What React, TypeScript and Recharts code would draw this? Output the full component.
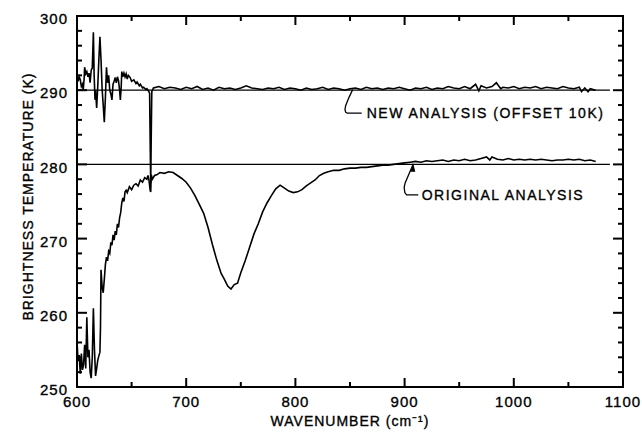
import { Label, Line, LineChart, ReferenceArea, ReferenceDot, ReferenceLine, XAxis, YAxis } from 'recharts'

// wavenumber (cm-1) / brightness temperature (K)
const origWn = [
  600, 601, 602, 603, 604, 605, 606, 607, 608, 609, 610, 611, 612, 613, 614, 615, 616, 617, 618, 619, 620, 621, 621.5, 622, 623,
  624, 625, 626, 627, 628, 629, 630, 631, 632, 633, 634, 635, 636, 637, 638, 639, 640, 641, 642, 643, 644, 645, 646, 648, 650,
  652, 654, 656, 658, 660, 662, 664, 665, 666, 667, 667.5, 668, 669, 671, 673, 676, 680, 684, 688, 692, 696, 700, 704, 708, 712,
  716, 720, 724, 728, 732, 735, 738, 741, 744, 747, 750, 754, 758, 762, 766, 770, 774, 778, 782, 786, 790, 794, 798, 802, 806,
  810, 814, 818, 822, 826, 830, 835, 840, 845, 850, 855, 860, 865, 870, 875, 880, 885, 890, 895, 900, 905, 910, 915, 920, 925,
  930, 935, 940, 945, 950, 955, 960, 965, 970, 975, 978, 980, 985, 990, 995, 1000, 1005, 1010, 1015, 1020, 1025, 1030, 1035,
  1040, 1045, 1050, 1055, 1060, 1065, 1070, 1075,
]
const origT = [
  256.1, 253.5, 254.3, 251.8, 254.5, 252.3, 253, 255.7, 252.5, 259.4, 254, 255, 252, 251.2, 254, 260.6, 255, 251.5, 252.5, 253.6,
  254.2, 254.7, 258, 265.8, 263.5, 262.7, 264.5, 266.5, 267.5, 267, 268.3, 268, 269.5, 269.1, 270.5, 269.8, 271, 270.5, 272,
  271.5, 272.8, 273.5, 274.8, 275.5, 275, 276.3, 276.5, 276.2, 277, 276.6, 277.2, 277.4, 277.1, 277.9, 277.6, 278.2, 278, 278.5,
  277.8, 276.5, 276.3, 278.6, 278, 278.5, 278.6, 278.9, 278.8, 279, 278.9, 278.5, 278.1, 277.6, 276.8, 275.8, 274.6, 273.4,
  271.5, 269.2, 267.1, 265.3, 264.5, 263.6, 263.2, 263.8, 264, 265.4, 267, 268.8, 270.6, 272, 273.6, 274.8, 275.8, 276.7, 277.2,
  276.8, 276.4, 276.2, 276.3, 276.6, 277.1, 277.5, 277.9, 278.5, 278.8, 279, 279.2, 279.2, 279.4, 279.5, 279.5, 279.6, 279.6,
  279.7, 279.8, 279.9, 279.9, 280, 280.1, 280.2, 280.3, 280.4, 280.3, 280.5, 280.4, 280.5, 280.6, 280.4, 280.6, 280.5, 280.7,
  280.5, 280.6, 280.8, 281, 280.6, 281, 280.7, 280.6, 280.8, 280.6, 280.7, 280.6, 280.7, 280.6, 280.7, 280.6, 280.5, 280.6,
  280.6, 280.7, 280.6, 280.7, 280.5, 280.6, 280.4,
]

const newWn = [
  600, 601, 602, 603, 604, 605, 605.7, 606.5, 607, 608, 609, 610, 611, 612, 613, 614, 615, 615.7, 616.5, 617, 618, 619, 620, 621,
  622, 623, 624, 625, 626, 627, 628, 629, 630, 631, 632, 633, 634, 635, 636, 637, 638, 639, 639.7, 640.5, 641, 642, 643, 644,
  645, 646, 647, 648.7, 650, 652, 654, 655, 657, 658, 660, 661, 663, 664, 665.5, 666.5, 667, 667.5, 668, 668.5, 670, 675, 680,
  685, 690, 695, 700, 705, 710, 715, 720, 725, 730, 735, 740, 745, 750, 755, 760, 765, 770, 775, 780, 785, 790, 795, 800, 805,
  810, 815, 820, 825, 830, 835, 840, 845, 850, 855, 860, 865, 870, 875, 880, 885, 890, 895, 900, 905, 910, 915, 920, 925, 930,
  935, 940, 945, 950, 955, 960, 965, 968, 970, 975, 980, 984, 988, 990, 995, 1000, 1005, 1010, 1015, 1020, 1025, 1030, 1035,
  1040, 1045, 1050, 1055, 1060, 1062, 1065, 1068, 1070, 1075,
]
const newT = [
  292, 291.2, 291.8, 291.4, 290.5, 290.8, 290, 291.5, 293.1, 292.2, 292.5, 291.8, 292.3, 291, 292.7, 293, 297.8, 292, 288.7, 290,
  287.6, 290.5, 294.1, 297.2, 294.1, 290.2, 288, 285.7, 289, 293.1, 291, 292, 290, 289.5, 288.7, 290.8, 291.2, 291.7, 291, 291.8,
  291.3, 290, 288.7, 290.5, 292.5, 291.8, 292.3, 291.8, 292.2, 291.5, 292, 291.7, 291.2, 291.4, 290.9, 291.1, 290.6, 290.8, 290.3,
  290.4, 290.1, 290.2, 289.9, 289.6, 283, 277.5, 284, 289.8, 290.3, 290.5, 290.2, 290.4, 290.3, 290.1, 290.4, 290.2, 290.5, 290.1,
  290.3, 290, 290.4, 290.2, 290.3, 290.1, 290.3, 290.6, 290.3, 290.2, 290.1, 290.3, 290.2, 290.4, 290.1, 290.3, 290.2, 290, 290.3,
  290.1, 290.2, 290.4, 290.1, 290.3, 290.2, 290, 290.2, 290.3, 290.1, 290.4, 290.2, 290.3, 290.1, 290.3, 290.2, 290.4, 290.2, 290,
  290.3, 290.2, 290.4, 290.1, 290.3, 290.2, 290.5, 290.3, 290.2, 290.5, 290.2, 290.8, 289.9, 290.6, 290.3, 290.5, 291, 290.2,
  290.4, 290.3, 290.5, 290.2, 290.4, 290.3, 290.5, 290.2, 290.4, 290.3, 290.2, 290.5, 290.3, 290.2, 290.4, 289.8, 290.3, 289.8,
  290.2, 290,
]

// leader lines for the two annotations
const newLeaderWn = [852.5, 849, 846, 845.4, 846, 847.5, 860.7]
const newLeaderT = [290.1, 289, 287.9, 287.4, 287.05, 286.9, 286.9]
const origLeaderWn = [908, 904, 900.5, 899.6, 900.2, 901.8, 912.5]
const origLeaderT = [280.1, 278.7, 277.5, 276.9, 276.2, 275.9, 275.9]

const xTicks = [600, 650, 700, 750, 800, 850, 900, 950, 1000, 1050, 1100]
const yTicks = [250, 252, 254, 256, 258, 260, 262, 264, 266, 268, 270, 272, 274, 276, 278, 280, 282, 284, 286, 288, 290, 292, 294, 296, 298, 300]

const toRows = (xs: number[], ys: number[]) => xs.map((wn, i) => ({ wn, t: ys[i] }))
const origData = toRows(origWn, origT)
const newData = toRows(newWn, newT)
const newLeader = toRows(newLeaderWn, newLeaderT)
const origLeader = toRows(origLeaderWn, origLeaderT)

const W = 642
const H = 435
const M = { top: 16, right: 19, bottom: 0, left: 0 }
const PLOT_TOP = M.top
const PLOT_RIGHT = W - M.right

const FONT = '"Liberation Sans", Arial, sans-serif'
const INK = '#000'
const textStyle = { fontFamily: FONT, fill: INK, stroke: INK, strokeWidth: 0.35 }

// ticks point inward on all four sides; labels only on major ticks
const BottomTick = (p: any) => {
  const major = p.payload.value % 100 === 0
  const len = major ? 9 : 5
  return (
    <g>
      <line x1={p.x} x2={p.x} y1={p.y} y2={p.y - len} stroke={INK} strokeWidth={2} />
      <line x1={p.x} x2={p.x} y1={PLOT_TOP} y2={PLOT_TOP + len} stroke={INK} strokeWidth={2} />
      {major && (
        <text x={p.x} y={p.y + 20} textAnchor="middle" fontSize={15} letterSpacing={1} {...textStyle}>
          {p.payload.value}
        </text>
      )}
    </g>
  )
}
const LeftTick = (p: any) => {
  const major = p.payload.value % 10 === 0
  const len = major ? 10 : 5
  return (
    <g>
      <line x1={p.x} x2={p.x + len} y1={p.y} y2={p.y} stroke={INK} strokeWidth={2} />
      <line x1={PLOT_RIGHT} x2={PLOT_RIGHT - len} y1={p.y} y2={p.y} stroke={INK} strokeWidth={2} />
      {major && (
        <text x={p.x - 9} y={p.y + 3} textAnchor="end" dy="0.35em" fontSize={15} letterSpacing={1} {...textStyle}>
          {p.payload.value}
        </text>
      )}
    </g>
  )
}

const note = (text: string) => (p: any) => (
  <text x={p.cx} y={p.cy} dy="0.35em" fontSize={14} letterSpacing={1.5} {...textStyle}>
    {text}
  </text>
)
const arrowHead = (p: any) => (
  <polygon points={`${p.cx},${p.cy} ${p.cx - 3},${p.cy + 8} ${p.cx + 2},${p.cy + 8}`} fill={INK} />
)

export default function App() {
  return (
    <div style={{ position: 'absolute', left: 0, top: 0, background: '#fff' }}>
      <LineChart width={W} height={H} margin={M}>
        <XAxis
          dataKey="wn"
          type="number"
          domain={[600, 1100]}
          ticks={xTicks}
          interval={0}
          height={48}
          tickSize={0}
          tickMargin={0}
          tick={BottomTick}
          axisLine={{ stroke: INK, strokeWidth: 2 }}
        >
          <Label
            content={(p: any) => (
              <text x={p.viewBox.x + p.viewBox.width / 2} y={421} dy="0.35em" textAnchor="middle" fontSize={14} letterSpacing={1} {...textStyle}>
                WAVENUMBER (cm⁻¹)
              </text>
            )}
          />
        </XAxis>
        <YAxis
          type="number"
          domain={[250, 300]}
          ticks={yTicks}
          interval={0}
          width={77}
          tickSize={0}
          tickMargin={0}
          tick={LeftTick}
          axisLine={{ stroke: INK, strokeWidth: 2 }}
        >
          <Label
            content={(p: any) => {
              const cx = 28.5
              const cy = p.viewBox.y + p.viewBox.height / 2 - 5
              return (
                <text x={cx} y={cy} dy="0.35em" textAnchor="middle" transform={`rotate(-90 ${cx} ${cy})`} fontSize={14} letterSpacing={1} {...textStyle}>
                  BRIGHTNESS TEMPERATURE (K)
                </text>
              )
            }}
          />
        </YAxis>

        <ReferenceArea x1={600} x2={1100} y1={250} y2={300} fill="none" stroke={INK} strokeWidth={2} />
        <ReferenceLine segment={[{ x: 600, y: 290 }, { x: 1088, y: 290 }]} stroke={INK} strokeWidth={1.3} />
        <ReferenceLine segment={[{ x: 600, y: 280 }, { x: 1088, y: 280 }]} stroke={INK} strokeWidth={1.3} />

        <Line data={origData} dataKey="t" type="linear" stroke={INK} strokeWidth={1.6} dot={false} isAnimationActive={false} />
        <Line data={newData} dataKey="t" type="linear" stroke={INK} strokeWidth={1.6} dot={false} isAnimationActive={false} />
        <Line data={newLeader} dataKey="t" type="linear" stroke={INK} strokeWidth={1.3} dot={false} isAnimationActive={false} />
        <Line data={origLeader} dataKey="t" type="linear" stroke={INK} strokeWidth={1.3} dot={false} isAnimationActive={false} />

        <ReferenceDot x={908} y={280.1} r={1} shape={arrowHead} />
        <ReferenceDot x={865.3} y={286.9} r={1} shape={note('NEW ANALYSIS (OFFSET 10K)')} />
        <ReferenceDot x={915.7} y={275.9} r={1} shape={note('ORIGINAL ANALYSIS')} />
      </LineChart>
    </div>
  )
}
